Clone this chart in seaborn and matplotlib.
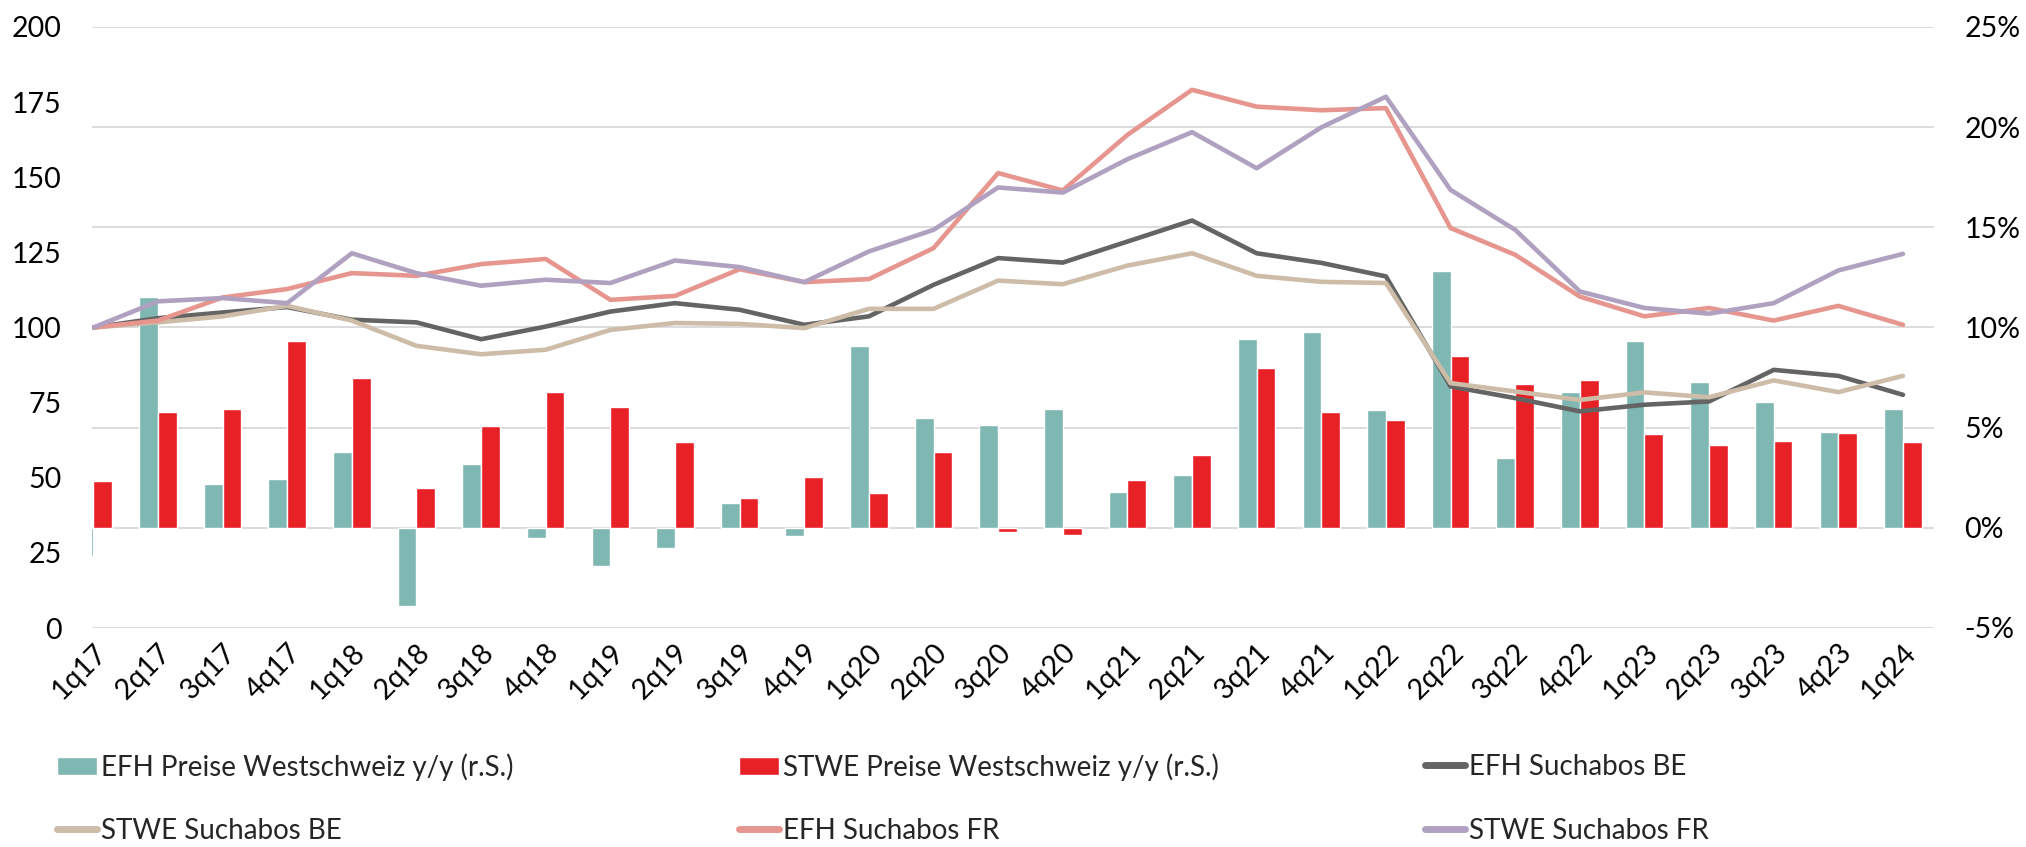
import numpy as np
import pandas as pd
import matplotlib
matplotlib.use("Agg")
import matplotlib.pyplot as plt
import seaborn as sns
from matplotlib.patches import Patch
from matplotlib.lines import Line2D

quarters = ['1q17', '2q17', '3q17', '4q17', '1q18', '2q18', '3q18', '4q18',
            '1q19', '2q19', '3q19', '4q19', '1q20', '2q20', '3q20', '4q20',
            '1q21', '2q21', '3q21', '4q21', '1q22', '2q22', '3q22', '4q22',
            '1q23', '2q23', '3q23', '4q23', '1q24']

efh_yoy = [-1.4, 11.5, 2.2, 2.45, 3.8, -3.9, 3.2, -0.5, -1.9, -1.0, 1.25, -0.4,
           9.1, 5.5, 5.15, 5.95, 1.8, 2.65, 9.45, 9.8, 5.9, 12.8, 3.5, 6.8,
           9.35, 7.3, 6.3, 4.8, 5.95]
stwe_yoy = [2.35, 5.8, 5.95, 9.35, 7.5, 2.0, 5.1, 6.8, 6.05, 4.3, 1.5, 2.55,
            1.75, 3.8, -0.2, -0.35, 2.4, 3.65, 8.0, 5.8, 5.4, 8.6, 7.2, 7.4,
            4.7, 4.15, 4.35, 4.75, 4.3]

efh_be = [100, 103.1, 105.0, 106.8, 102.6, 101.7, 96.1, 100.3, 105.3, 108.1,
          105.9, 100.9, 103.7, 114.2, 123.1, 121.6, 128.6, 135.6, 124.7, 121.5,
          117.0, 80.4, 76.5, 72.1, 74.3, 75.4, 85.9, 83.9, 77.6]
stwe_be = [100, 101.7, 103.7, 107.2, 102.3, 93.9, 91.1, 92.6, 99.2, 101.5,
           101.2, 99.8, 106.2, 106.2, 115.6, 114.4, 120.6, 124.7, 117.2, 115.2,
           114.8, 81.5, 78.7, 75.9, 78.4, 76.8, 82.4, 78.5, 83.9]
efh_fr = [100, 102.3, 110.0, 112.8, 118.1, 117.2, 121.1, 122.8, 109.2, 110.5,
          119.4, 115.1, 116.1, 126.4, 151.4, 145.6, 164.1, 179.1, 173.5, 172.3,
          173.0, 133.1, 124.2, 110.3, 103.7, 106.5, 102.3, 107.2, 100.9]
stwe_fr = [100, 108.7, 109.8, 108.1, 124.7, 118.1, 113.9, 115.9, 114.8, 122.3,
           120.1, 115.1, 125.3, 132.5, 146.6, 144.9, 156.0, 165.0, 153.0, 166.6,
           176.8, 145.8, 132.5, 112.0, 106.5, 104.6, 108.1, 119.0, 124.5]

bar_names = ['EFH Preise Westschweiz y/y (r.S.)', 'STWE Preise Westschweiz y/y (r.S.)']
line_names = ['EFH Suchabos BE', 'STWE Suchabos BE', 'EFH Suchabos FR', 'STWE Suchabos FR']
left_ticks = [0, 25, 50, 75, 100, 125, 150, 175, 200]
right_ticks = [-5, 0, 5, 10, 15, 20, 25]

bar_colors = {bar_names[0]: '#7FB8B3', bar_names[1]: '#E82127'}
line_colors = {line_names[0]: '#646464', line_names[1]: '#CDBCA8',
               line_names[2]: '#E6968F', line_names[3]: '#B0A1C1'}

sns.set_theme(style='white')
plt.rcParams['font.family'] = ['Lato', 'DejaVu Sans']
FS = 19.5

bars_df = pd.DataFrame({
    'quarter': quarters * 2,
    'series': [bar_names[0]] * len(quarters) + [bar_names[1]] * len(quarters),
    'value': efh_yoy + stwe_yoy,
})
pos = np.arange(len(quarters))
lines_df = pd.concat([
    pd.DataFrame({'pos': pos, 'series': name, 'value': vals})
    for name, vals in zip(line_names, [efh_be, stwe_be, efh_fr, stwe_fr])
])

fig = plt.figure(figsize=(20.26, 8.47), dpi=100)
ax_bar = fig.add_axes([92 / 2026, 1 - 628 / 847, (1934 - 92) / 2026, (628 - 27) / 847])
ax_line = ax_bar.twinx()

sns.barplot(data=bars_df, x='quarter', y='value', hue='series', order=quarters,
            hue_order=bar_names, palette=bar_colors, width=0.58, dodge=True,
            saturation=1, legend=False, ax=ax_bar, zorder=2)
sns.lineplot(data=lines_df, x='pos', y='value', hue='series', hue_order=line_names,
             palette=line_colors, linewidth=3.3, legend=False, ax=ax_line,
             sort=False)

ax_bar.set_xlim(-0.02, 28.48)
ax_bar.set_ylim(-5, 25)
ax_line.set_ylim(0, 200)

ax_bar.yaxis.tick_right()
ax_bar.yaxis.set_label_position('right')
ax_line.yaxis.tick_left()
ax_line.yaxis.set_label_position('left')

ax_bar.set_yticks(right_ticks)
ax_bar.set_yticklabels([f'{v}%' for v in right_ticks], fontsize=FS + 1)
ax_line.set_yticks(left_ticks)
ax_line.set_yticklabels([str(v) for v in left_ticks], fontsize=FS + 1)
ax_bar.tick_params(axis='y', length=0, pad=22, labelcolor='#000000')
ax_line.tick_params(axis='y', length=0, pad=22, labelcolor='#000000')

ax_bar.set_xticks(pos)
ax_bar.set_xticklabels(quarters, rotation=45, ha='right', va='top',
                       rotation_mode='anchor', fontsize=FS + 1)
ax_bar.tick_params(axis='x', direction='in', length=7, width=1.2,
                   color='#D9D9D9', pad=8, labelcolor='#000000')
ax_line.tick_params(axis='x', length=0)

ax_bar.set_axisbelow(True)
ax_bar.yaxis.grid(True, color='#D9D9D9', linewidth=1.3)
ax_bar.xaxis.grid(False)
ax_line.grid(False)
for a in (ax_bar, ax_line):
    for s in a.spines.values():
        s.set_visible(False)
    a.set_xlabel('')
    a.set_ylabel('')
ax_bar.patch.set_visible(False)
ax_line.patch.set_visible(False)

handles = [Patch(facecolor=bar_colors[bar_names[0]]),
           Patch(facecolor=bar_colors[bar_names[1]]),
           Line2D([], [], color=line_colors[line_names[0]], linewidth=5, solid_capstyle='round'),
           Line2D([], [], color=line_colors[line_names[1]], linewidth=5, solid_capstyle='round'),
           Line2D([], [], color=line_colors[line_names[2]], linewidth=5, solid_capstyle='round'),
           Line2D([], [], color=line_colors[line_names[3]], linewidth=5, solid_capstyle='round')]
labels = bar_names + line_names
col_x = [57 / 2026, 739 / 2026, 1425 / 2026]
row_y = [1 - 767 / 847, 1 - 831 / 847]
for i, (h, lab) in enumerate(zip(handles, labels)):
    r, c = divmod(i, 3)
    fig.legend(handles=[h], labels=[lab], loc='center left',
               bbox_to_anchor=(col_x[c], row_y[r]), frameon=False,
               borderpad=0, borderaxespad=0, handletextpad=0.12,
               handlelength=1.45, handleheight=0.65, fontsize=FS + 0.5)

fig.savefig('out.png', dpi=100)
